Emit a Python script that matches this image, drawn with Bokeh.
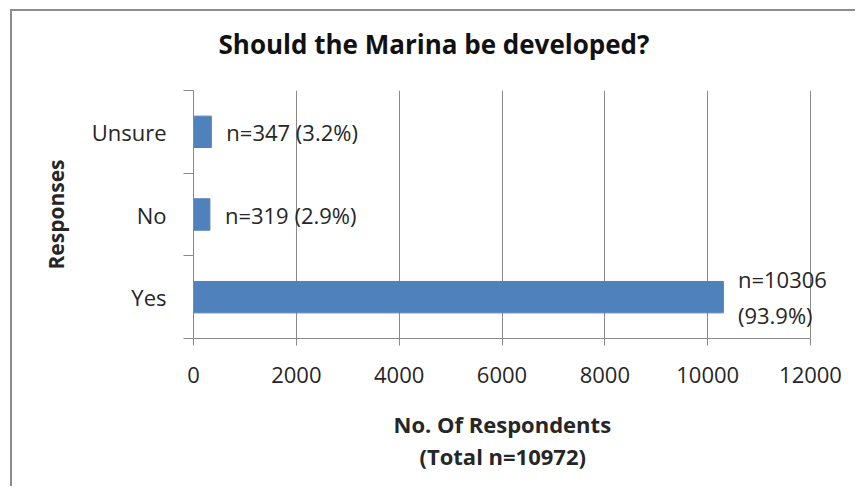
import numpy as np
from bokeh.plotting import figure
from bokeh.models import ColumnDataSource, FixedTicker, Range1d, LabelSet, Title
from bokeh.core.properties import value
from bokeh.embed import file_html
from bokeh.resources import INLINE

categories = ["Yes", "No", "Unsure"]
counts = [10306, 319, 347]
labels = ["n=10306\n(93.9%)", "n=319 (2.9%)", "n=347 (3.2%)"]
x_ticks = [0, 2000, 4000, 6000, 8000, 10000, 12000]
x_max = 12000
title_text = "Should the Marina be developed?"
xlabel_lines = ["No. Of Respondents", "(Total n=10972)"]
ylabel_text = "Responses"

FONT = "Open Sans"
TXT = "#262626"
GRID = "#8a8a8a"

ypos = np.arange(len(categories)) + 0.5
is_big = [c == max(counts) for c in counts]
src = ColumnDataSource(dict(
    y=ypos,
    count=counts,
    label=labels,
    xoff=[59 if b else 15 for b in is_big],
    align=["center" if b else "left" for b in is_big],
))

# frame extends past the last tick so the right-hand label is not clipped
frame_left, tick_right, frame_right = 193, 810, 850
x_end = x_max * (frame_right - frame_left) / (tick_right - frame_left)

p = figure(width=845, height=477, output_backend="svg", toolbar_location=None,
           x_range=Range1d(0, x_end), y_range=Range1d(0, len(categories)),
           title=None,
           min_border_left=181, min_border_right=7, min_border_top=79, min_border_bottom=150)
p.styles = {"border-left": "2px solid #8c8c8c", "border-top": "2px solid #8c8c8c",
            "margin-left": "10px", "margin-top": "9px"}

# spacer then main title (titles stack outward from the frame)
p.add_layout(Title(text=" ", text_font_size="20px", standoff=0), "above")
p.add_layout(Title(text=title_text, text_font=FONT, text_font_size="26px",
                   text_font_style="bold", text_color="#111111",
                   align="left", offset=25), "above")

p.outline_line_color = None
p.background_fill_color = "white"
p.border_fill_color = "white"

p.hbar(y="y", right="count", height=0.38, left=0, source=src, color="#4F81BD")
p.add_layout(LabelSet(x="count", y="y", text="label", source=src, x_offset="xoff",
                      text_align="align", text_baseline="middle", text_font_size="22px",
                      text_color=TXT, text_line_height=1.2, text_font=value(FONT)))

# x axis
xa = p.xaxis[0]
xa.ticker = FixedTicker(ticks=x_ticks, minor_ticks=[])
xa.bounds = (0, x_max)
xa.axis_line_color = GRID
xa.major_tick_line_color = GRID
xa.major_tick_out = 7
xa.major_tick_in = 0
xa.minor_tick_line_color = None
xa.major_label_text_font = FONT
xa.major_label_text_font_size = "22px"
xa.major_label_text_color = TXT
xa.major_label_standoff = 21

# x axis title, centred under the 0..12000 span
for line, off, pad in zip(xlabel_lines, [200, 226], [(0, 0, 21, 0), 0]):
    p.add_layout(Title(text=line, text_font=FONT, text_font_size="22px",
                       text_font_style="bold", text_color=TXT,
                       align="left", offset=off, standoff=0, padding=pad), "below")

# y axis
ya = p.yaxis[0]
ya.ticker = FixedTicker(ticks=list(ypos), minor_ticks=list(np.arange(len(categories) + 1)))
ya.major_label_overrides = {float(y): c for y, c in zip(ypos, categories)}
ya.axis_line_color = GRID
ya.major_tick_line_color = None
ya.major_tick_out = 0
ya.major_tick_in = 0
ya.minor_tick_line_color = GRID
ya.minor_tick_out = 10
ya.minor_tick_in = 0
ya.major_label_text_font = FONT
ya.major_label_text_font_size = "22px"
ya.major_label_text_color = TXT
ya.major_label_standoff = 17
ya.axis_label = ylabel_text
ya.axis_label_text_font = FONT
ya.axis_label_text_font_size = "21px"
ya.axis_label_text_font_style = "bold"
ya.axis_label_text_color = TXT
ya.axis_label_standoff = 19

p.xgrid.grid_line_color = GRID
p.xgrid.ticker = FixedTicker(ticks=x_ticks)
p.ygrid.grid_line_color = None

open("out.html", "w").write(file_html(p, INLINE))
